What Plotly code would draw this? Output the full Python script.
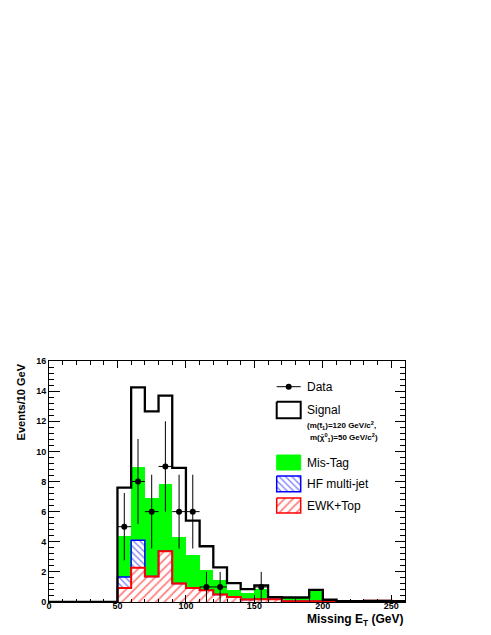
import numpy as np
import plotly.graph_objects as go

# ---- data (bins of 10 GeV, 0..260) ----
bin_edges = list(range(0, 270, 10))
# stacked cumulative tops
signal_top = [0, 0, 0, 0, 0, 7.6, 14.25, 12.65, 13.7, 8.9, 5.4, 3.7, 2.3, 1.25, 0.85, 1.1,
              0.33, 0.3, 0.3, 0.8, 0.15, 0.05, 0.05, 0.08, 0.08, 0.05]
mistag_top = [0, 0, 0, 0, 0, 4.35, 8.95, 6.9, 7.85, 4.3, 3.15, 2.15, 1.45, 0.78, 0.6, 0.85,
              0.2, 0.28, 0.25, 0.78, 0.03, 0.02, 0.02, 0.08, 0.08, 0.02]
hf_top = [0, 0, 0, 0, 0, 1.66, 4.1, 1.7, 3.37, 1.22, 0.93, 0.78, 0.5, 0.33, 0.17, 0.18,
          0.18, 0.05, 0.05, 0.05, 0.02, 0.02, 0.02, 0.08, 0.08, 0.02]
ewk_top = [0, 0, 0, 0, 0, 0.93, 2.28, 1.7, 3.37, 1.22, 0.93, 0.78, 0.5, 0.33, 0.17, 0.18,
           0.18, 0.05, 0.05, 0.05, 0.02, 0.02, 0.02, 0.08, 0.08, 0.02]

data_x = [55, 65, 75, 85, 95, 105, 115, 125, 155]
data_y = [5, 8, 6, 9, 6, 6, 1, 1, 1]

x_ticks = [0, 50, 100, 150, 200, 250]
y_ticks = [0, 2, 4, 6, 8, 10, 12, 14, 16]

centers = [e + 5 for e in bin_edges[:-1]]
FONT = "Liberation Sans, Arial, Helvetica, sans-serif"
RED_PAT = dict(shape="/", fgcolor="#ff0000", bgcolor="white", size=6, solidity=0.3)
BLUE_PAT = dict(shape="\\", fgcolor="#0000ff", bgcolor="white", size=4.5, solidity=0.3)

fig = go.Figure()

# fills
fig.add_trace(go.Bar(x=centers, y=mistag_top, width=10, marker=dict(color="#00ff00", line=dict(width=0)),
                     showlegend=False, hoverinfo="skip"))
fig.add_trace(go.Bar(x=centers, y=hf_top, width=10,
                     marker=dict(color="white", line=dict(width=0), pattern=BLUE_PAT),
                     showlegend=False, hoverinfo="skip"))
fig.add_trace(go.Bar(x=centers, y=ewk_top, width=10,
                     marker=dict(color="white", line=dict(width=0), pattern=RED_PAT),
                     showlegend=False, hoverinfo="skip"))

def step(vals):
    return bin_edges, list(vals) + [vals[-1]]

sx, sy = step(hf_top)
fig.add_trace(go.Scatter(x=sx, y=sy, mode="lines", line=dict(color="#0000ff", width=1.5, shape="hv"),
                         showlegend=False, hoverinfo="skip"))
sx, sy = step(ewk_top)
fig.add_trace(go.Scatter(x=sx, y=sy, mode="lines", line=dict(color="#ff0000", width=2, shape="hv"),
                         showlegend=False, hoverinfo="skip"))
sx, sy = step(signal_top)
fig.add_trace(go.Scatter(x=sx, y=sy, mode="lines", line=dict(color="black", width=2.3, shape="hv"),
                         showlegend=False, hoverinfo="skip"))

# data
fig.add_trace(go.Scatter(
    x=data_x, y=data_y, mode="markers",
    marker=dict(color="black", size=6, symbol="circle"),
    error_y=dict(type="data", array=list(np.sqrt(data_y)), width=0, thickness=1, color="black"),
    error_x=dict(type="data", array=[5] * len(data_x), width=0, thickness=1, color="black"),
    showlegend=False, hoverinfo="skip"))

# ---- legend (pixel coordinates on an overlay axis) ----
OFF = 8  # page body offset
L, R, T, B = 49, 405, 361, 602
bx0, bx1 = 276.7, 300.7
fig.add_trace(go.Scatter(x=[bx0, bx1], y=[386.7, 386.7], mode="lines", line=dict(color="black", width=1),
                         xaxis="x2", yaxis="y2", showlegend=False, hoverinfo="skip"))
fig.add_trace(go.Scatter(x=[(bx0 + bx1) / 2], y=[386.7], mode="markers", marker=dict(color="black", size=6),
                         xaxis="x2", yaxis="y2", showlegend=False, hoverinfo="skip"))

def box(y0, y1, **kw):
    return go.Scatter(x=[bx0, bx1, bx1, bx0, bx0], y=[y0, y0, y1, y1, y0], mode="lines",
                      fill="toself", xaxis="x2", yaxis="y2", showlegend=False, hoverinfo="skip", **kw)

fig.add_trace(box(401.7, 418.3, line=dict(color="black", width=2), fillcolor="white"))
fig.add_trace(box(455, 470, line=dict(color="#00ff00", width=1), fillcolor="#00ff00"))
fig.add_trace(box(476, 491.7, line=dict(color="#0000ff", width=1.5), fillcolor="white", fillpattern=BLUE_PAT))
fig.add_trace(box(498, 513, line=dict(color="#ff0000", width=1.5), fillcolor="white", fillpattern=RED_PAT))

annots = []
for txt, y in [("Data", 386.7), ("Signal", 409.5), ("Mis-Tag", 462.5), ("HF multi-jet", 483.8), ("EWK+Top", 505.5)]:
    annots.append(dict(text=txt, x=305, y=y, xref="x2", yref="y2", xanchor="left", yanchor="middle",
                       showarrow=False, font=dict(family=FONT, size=12, color="black")))
annots.append(dict(text="(m(t̃<sub>1</sub>)=120 GeV/c<sup>2</sup>,", x=305, y=425, xref="x2", yref="y2",
                   xanchor="left", yanchor="middle", showarrow=False,
                   font=dict(family=FONT, size=8, color="black", weight="bold")))
annots.append(dict(text="m(χ̃<sup>0</sup><sub>1</sub>)=50 GeV/c<sup>2</sup>)", x=307.5, y=437, xref="x2", yref="y2",
                   xanchor="left", yanchor="middle", showarrow=False,
                   font=dict(family=FONT, size=8, color="black", weight="bold")))
# axis titles
annots.append(dict(text="Events/10 GeV", x=-0.079, y=1.0, xref="paper", yref="paper", textangle=-90,
                   xanchor="center", yanchor="top", showarrow=False,
                   font=dict(family=FONT, size=11, color="black", weight="bold")))
annots.append(dict(text="Missing E<sub>T</sub> (GeV)", x=1.0, y=-0.076, xref="paper", yref="paper",
                   xanchor="right", yanchor="middle", showarrow=False,
                   font=dict(family=FONT, size=12, color="black", weight="bold")))

fig.update_layout(
    width=491, height=635,
    margin=dict(l=L - OFF, r=491 - R + OFF, t=T - OFF, b=635 - B + OFF, pad=0),
    paper_bgcolor="white", plot_bgcolor="white",
    barmode="overlay", bargap=0,
    annotations=annots,
    xaxis=dict(range=[0, 260], tickvals=x_ticks, ticktext=[str(v) for v in x_ticks],
               ticks="inside", ticklen=7, tickwidth=1, tickcolor="black", ticklabelstandoff=-5,
               minor=dict(dtick=10, ticks="inside", ticklen=3.5, tickcolor="black", tick0=0),
               showline=True, linecolor="black", linewidth=1, mirror="allticks",
               showgrid=False, zeroline=False,
               tickfont=dict(family=FONT, size=9, color="black", weight="bold")),
    yaxis=dict(range=[0, 16], tickvals=y_ticks, ticktext=[str(v) for v in y_ticks],
               ticks="inside", ticklen=10.5, tickwidth=1, tickcolor="black",
               minor=dict(dtick=0.4, ticks="inside", ticklen=5, tickcolor="black", tick0=0),
               showline=True, linecolor="black", linewidth=1, mirror="allticks",
               showgrid=False, zeroline=False,
               tickfont=dict(family=FONT, size=9, color="black", weight="bold")),
    xaxis2=dict(overlaying="x", range=[L, R], visible=False, fixedrange=True),
    yaxis2=dict(overlaying="y", range=[B, T], visible=False, fixedrange=True),
)

fig.write_html("out.html")
